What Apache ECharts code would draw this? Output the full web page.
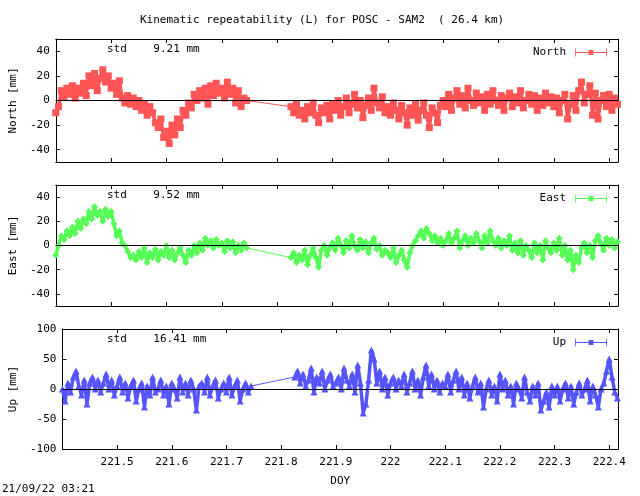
<!DOCTYPE html>
<html><head><meta charset="utf-8">
<script src="https://cdn.jsdelivr.net/npm/echarts@6/dist/echarts.min.js"></script>
<style>html,body{margin:0;padding:0;background:#fff}#c{width:640px;height:496px}</style>
</head><body><div id="c"></div>
<script>
// DOY sampling: segment 1 starts 221.400, segment 2 starts 221.825, step 0.005
const seg1Start = 221.400, seg2Start = 221.825, stepDoy = 0.005;
const northSeg1 = [-10,-5,8,3,10,5,12,2,10,6,14,4,20,12,22,8,18,25,15,20,10,14,5,16,2,-2,4,-3,2,-5,0,-8,-3,-12,-5,-10,-18,-22,-15,-30,-25,-35,-20,-28,-15,-22,-8,-12,-2,-6,5,0,8,2,10,-3,12,4,14,6,10,2,15,5,10,-2,8,-5,2,0];
const northSeg2 = [-5,-10,-3,-12,-8,-15,-5,-10,-2,-12,-18,-6,-10,-4,-15,
 -3,-8,0,-12,-5,2,-10,-3,5,-6,0,-14,-4,2,-8,10,-2,-6,3,-10,
 -5,-12,-2,-8,-15,-4,-10,-20,-6,-12,-3,-16,-8,-2,-12,-22,-6,-10,-18,-4,
 0,-5,5,-8,2,8,-3,4,-6,10,0,-4,6,-2,3,-8,5,-3,8,0,
 -4,4,-8,2,6,-5,3,-2,8,-6,0,5,-3,4,-8,2,-4,6,-2,3,
 -5,2,-10,0,5,-15,-3,4,-8,8,15,-2,5,12,-12,6,-15,0,4,-5,
 5,-8,2,-3];
const eastSeg1 = [-8,0,8,5,12,8,15,10,20,14,22,18,28,22,32,25,28,20,30,24,28,18,8,12,2,0,-5,-10,-8,-12,-5,-10,-2,-14,-6,-10,-3,-12,-5,-8,0,-10,-4,-12,-6,-2,-8,-14,-4,-8,0,-6,2,-4,6,0,4,-2,5,0,2,-5,4,-2,3,-6,0,-4,2,-2];
const eastSeg2 = [-10,-6,-14,-8,-12,-4,-16,-8,-2,-10,-18,-4,0,-8,-2,
 2,-4,6,0,-6,4,-2,8,0,-4,5,-2,3,-6,2,6,-3,0,-8,-4,
 -6,-10,-2,-14,-8,-4,-12,-18,-6,0,4,8,12,6,14,10,4,8,2,6,
 0,4,10,2,6,12,-2,4,8,0,6,2,10,4,-2,8,2,12,4,0,
 6,-2,4,0,8,-4,2,-6,4,-8,0,-4,-10,2,-6,0,-12,4,-2,-6,
 2,-4,6,-8,0,-12,-4,-20,-8,-14,-2,2,-6,0,-10,4,8,2,-4,6,
 0,5,-2,3];
const upSeg1 = [0,-20,10,-5,20,30,5,-10,15,-25,10,20,0,15,-5,10,25,0,15,-10,5,20,-5,10,-15,5,15,-20,0,10,-30,5,-10,20,-5,0,15,-10,5,-25,10,0,-15,20,-5,10,-10,15,0,-35,5,10,-5,20,-10,5,15,-15,0,10,-5,20,-10,5,15,-20,0,10,-5,5];
const upSeg2 = [20,30,10,25,5,15,35,-5,20,10,30,0,15,25,5,
 10,20,0,35,15,5,25,-5,40,10,-40,-25,15,65,50,10,30,0,20,-10,
 10,20,0,15,5,25,-5,10,30,0,15,-10,20,40,5,25,0,15,-5,10,
 5,25,-5,15,30,0,20,-10,10,-15,5,20,-5,10,-30,0,15,-10,5,-20,
 25,0,15,-10,5,-25,10,0,-15,20,-5,-20,5,-10,10,-35,-20,-5,-30,5,
 -10,5,-20,0,10,-15,5,-25,-5,10,-10,0,15,-20,5,-10,-30,0,10,30,
 50,20,-5,-15];
const xTicks = [221.5,221.6,221.7,221.8,221.9,222.0,222.1,222.2,222.3,222.4];
const neTicks = [-40,-20,0,20,40];
const upTicks = [-100,-50,0,50,100];
const stdTexts = ['9.21','9.52','16.41'];
const names = ['North','East','Up'];
const yTitles = ['North [mm]','East [mm]','Up [mm]'];

function toPairs(a,start){ return a.map((v,i)=>[start+i*stepDoy,v]); }
const F='DejaVu Sans Mono';
const tops=[39,185,329], hts=[123,121,120];
const colors=['#ff5555','#55ff55','#5555ff'];
const symbols=['rect','diamond','triangle'];
const segs=[[northSeg1,northSeg2],[eastSeg1,eastSeg2],[upSeg1,upSeg2]];
const grid=[],xAxis=[],yAxis=[],series=[],legend=[],graphic=[];
for(let k=0;k<3;k++){
  grid.push({left:49,right:22,top:tops[k],height:hts[k]});
  const xb={type:'value',gridIndex:k,min:221.4,max:222.416,position:'bottom',
    axisLine:{onZero:false,lineStyle:{color:'#000',width:1}},splitLine:{show:false},
    axisTick:{inside:true,length:4,customValues:xTicks,lineStyle:{color:'#000'}},
    axisLabel:{show:k===2,customValues:xTicks,fontFamily:F,fontSize:11,color:'#000',margin:8,
      formatter:v=>Math.abs(v-222)<1e-6?'222':v.toFixed(1)}};
  if(k===2){xb.name='DOY';xb.nameLocation='middle';xb.nameGap=27;xb.nameTextStyle={fontFamily:F,fontSize:11,color:'#000'};}
  xAxis.push(xb);
  xAxis.push({type:'value',gridIndex:k,min:221.4,max:222.416,position:'top',
    axisLine:{onZero:false,lineStyle:{color:'#000'}},splitLine:{show:false},
    axisTick:{inside:true,length:4,customValues:xTicks,lineStyle:{color:'#000'}},axisLabel:{show:false}});
  const tk=k===2?upTicks:neTicks;
  const mm=k===2?100:50;
  yAxis.push({type:'value',gridIndex:k,min:-mm,max:mm,position:'left',
    name:yTitles[k],nameLocation:'middle',nameGap:34,nameTextStyle:{fontFamily:F,fontSize:11,color:'#000'},
    axisLine:{show:true,onZero:false,lineStyle:{color:'#000'}},splitLine:{show:false},
    axisTick:{inside:true,length:4,customValues:tk,lineStyle:{color:'#000'}},
    axisLabel:{customValues:tk,fontFamily:F,fontSize:11,color:'#000',margin:6}});
  yAxis.push({type:'value',gridIndex:k,min:-mm,max:mm,position:'right',
    axisLine:{show:true,onZero:false,lineStyle:{color:'#000'}},splitLine:{show:false},
    axisTick:{inside:true,length:4,customValues:tk,lineStyle:{color:'#000'}},axisLabel:{show:false}});
  const d1=toPairs(segs[k][0],seg1Start), d2=toPairs(segs[k][1],seg2Start);
  const common={type:'line',xAxisIndex:2*k,yAxisIndex:2*k,symbol:symbols[k],symbolSize:7,showAllSymbol:true,
    lineStyle:{color:colors[k],width:3.5},itemStyle:{color:colors[k]},animation:false,z:3};
  series.push(Object.assign({},common,{name:names[k],data:d1,
    markLine:{silent:true,symbol:'none',label:{show:false},lineStyle:{color:'#000',width:1,type:'solid'},data:[{yAxis:0}]}}));
  series.push(Object.assign({},common,{name:names[k],data:d2}));
  series.push({type:'line',xAxisIndex:2*k,yAxisIndex:2*k,data:[d1[d1.length-1],d2[0]],symbol:'none',
    lineStyle:{color:colors[k],width:1},z:2,animation:false});
  legend.push({data:[{name:names[k],icon:'path://M0,0H1V10H0ZM0,4.5H40V5.5H0ZM39,0H40V10H39ZM17,2H23V8H17Z'}],right:28,top:tops[k]+3,itemWidth:40,itemHeight:8,align:'right',
    textStyle:{fontFamily:F,fontSize:11,color:'#000'}});
  graphic.push({type:'text',left:107,top:tops[k]+5,style:{text:'std    '+stdTexts[k]+' mm',font:'11px "'+F+'"',fill:'#000'}});
}
graphic.push({type:'text',left:140,top:15,style:{text:'Kinematic repeatability (L) for POSC - SAM2  ( 26.4 km)',font:'11px "'+F+'"',fill:'#000'}});
graphic.push({type:'text',left:2,top:484,style:{text:'21/09/22 03:21',font:'11px "'+F+'"',fill:'#000'}});
const chart=echarts.init(document.getElementById('c'),null,{renderer:'canvas'});
chart.setOption({animation:false,grid,xAxis,yAxis,series,legend,graphic});
</script></body></html>
